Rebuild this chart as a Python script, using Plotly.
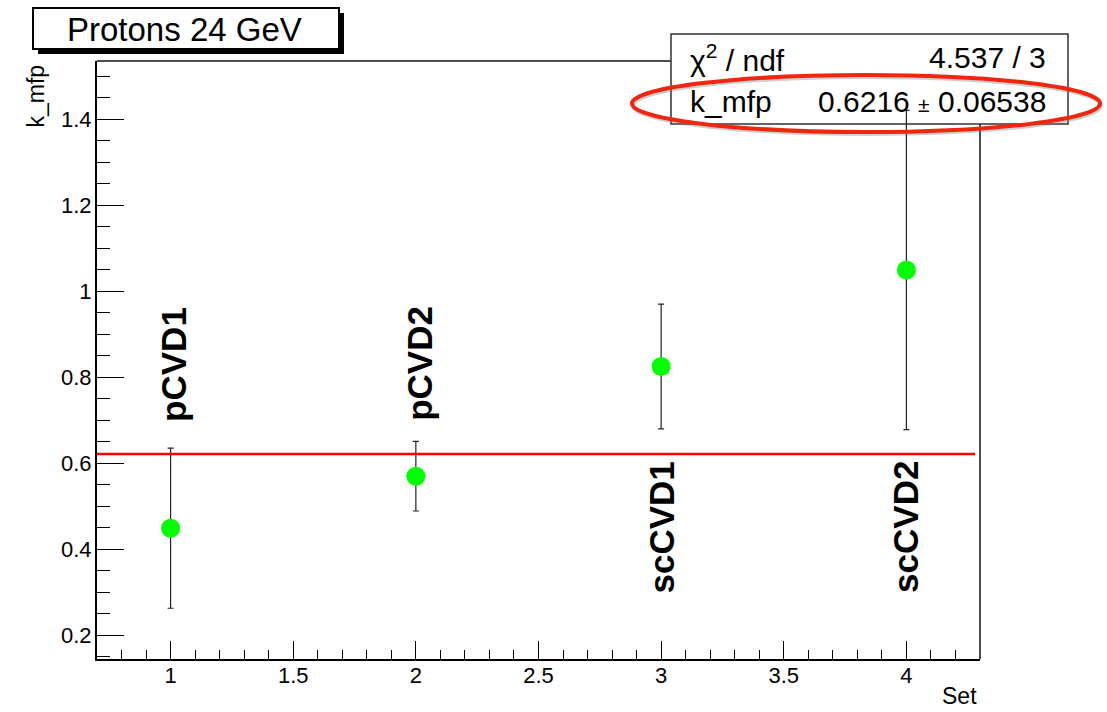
import plotly.graph_objects as go

# ---- data ----
sets = [1, 2, 3, 4]
k_mfp = [0.449, 0.570, 0.825, 1.049]
k_err = [0.186, 0.081, 0.145, 0.371]
labels = ["pCVD1", "pCVD2", "scCVD1", "scCVD2"]
label_y = [0.830, 0.833, 0.451, 0.453]
label_shift = [3, 3, 0, -1]
fit_value = 0.6216
fit_error = 0.06538
chi2 = 4.537
ndf = 3
fit_range = [0.7, 4.28]
title_text = "Protons 24 GeV"

# ---- layout geometry (pixels) ----
WIDTH, HEIGHT = 1107, 712
L, T, W, H = 97, 61, 883, 598
FONT = "Liberation Sans, Arial, Helvetica, sans-serif"


def fx(p):
    return (p - L) / W


def fy(p):
    return (T + H - p) / H


fig = go.Figure()

fig.add_trace(go.Scatter(
    x=sets, y=k_mfp, mode="markers",
    marker=dict(size=19, color="#00ff00", line=dict(width=0)),
    error_y=dict(type="data", array=k_err, visible=True,
                 thickness=1.2, width=3, color="#222222"),
    showlegend=False, cliponaxis=False,
))

fig.add_trace(go.Scatter(
    x=fit_range, y=[fit_value, fit_value], mode="lines",
    line=dict(color="#ff0000", width=2.5),
    showlegend=False,
))

shapes = []
# frame top / right (below, hidden by stats box)
shapes.append(dict(type="line", xref="paper", yref="paper", x0=0, x1=1, y0=1, y1=1,
                   line=dict(color="#111111", width=1.5), layer="below"))
shapes.append(dict(type="line", xref="paper", yref="paper", x0=1, x1=1, y0=0, y1=1,
                   line=dict(color="#111111", width=1.5), layer="below"))
# stats box
shapes.append(dict(type="rect", xref="paper", yref="paper",
                   x0=fx(671), x1=fx(1068), y0=fy(124), y1=fy(34),
                   fillcolor="white", line=dict(color="#333333", width=1.5), layer="below"))
# title box shadow + box
shapes.append(dict(type="rect", xref="paper", yref="paper",
                   x0=fx(38), x1=fx(344), y0=fy(54), y1=fy(13),
                   fillcolor="black", line=dict(width=0), layer="above"))
shapes.append(dict(type="rect", xref="paper", yref="paper",
                   x0=fx(33), x1=fx(339), y0=fy(49), y1=fy(8),
                   fillcolor="white", line=dict(color="black", width=2), layer="above"))
# red ellipse (soft shadow + stroke)
shapes.append(dict(type="circle", xref="paper", yref="paper",
                   x0=fx(633), x1=fx(1101), y0=fy(134), y1=fy(77),
                   fillcolor="rgba(0,0,0,0)", line=dict(color="rgba(120,120,120,0.35)", width=4),
                   layer="above"))
shapes.append(dict(type="circle", xref="paper", yref="paper",
                   x0=fx(632), x1=fx(1100), y0=fy(132), y1=fy(75),
                   fillcolor="rgba(0,0,0,0)", line=dict(color="#f0260f", width=4),
                   layer="above"))

annotations = []
# title
annotations.append(dict(text=title_text, xref="paper", yref="paper",
                        x=fx(184), y=fy(29), xanchor="center", yanchor="middle",
                        showarrow=False, font=dict(family=FONT, size=33, color="black")))
# stats text
annotations.append(dict(text="χ<sup>2</sup> / ndf", xref="paper", yref="paper",
                        x=fx(688), y=fy(58), xanchor="left", yanchor="middle",
                        showarrow=False, font=dict(family=FONT, size=30, color="black")))
annotations.append(dict(text=f"{chi2} / {ndf}", xref="paper", yref="paper",
                        x=fx(1048), y=fy(57), xanchor="right", yanchor="middle",
                        showarrow=False, font=dict(family=FONT, size=30, color="black")))
annotations.append(dict(text="k_mfp", xref="paper", yref="paper",
                        x=fx(688), y=fy(102), xanchor="left", yanchor="middle",
                        showarrow=False, font=dict(family=FONT, size=30, color="black")))
annotations.append(dict(text=f"{fit_value} <span style='font-size:21px'>±</span> {fit_error}",
                        xref="paper", yref="paper",
                        x=fx(1048), y=fy(102), xanchor="right", yanchor="middle",
                        showarrow=False, font=dict(family=FONT, size=30, color="black")))
# axis titles
annotations.append(dict(text="k_mfp", xref="paper", yref="paper",
                        x=fx(35), y=fy(62), xanchor="center", yanchor="top", textangle=-90,
                        showarrow=False, font=dict(family=FONT, size=23, color="black")))
annotations.append(dict(text="Set", xref="paper", yref="paper",
                        x=fx(979), y=fy(711), xanchor="right", yanchor="bottom",
                        showarrow=False, font=dict(family=FONT, size=23, color="black")))
# sample labels
for xs, ys, lab, sh in zip(sets, label_y, labels, label_shift):
    annotations.append(dict(text=f"<b>{lab}</b>", x=xs, y=ys, xref="x", yref="y",
                            xanchor="center", yanchor="middle", textangle=-90, xshift=sh,
                            showarrow=False, font=dict(family=FONT, size=35, color="black")))

fig.update_layout(
    width=WIDTH, height=HEIGHT,
    margin=dict(l=L, r=WIDTH - L - W, t=T, b=HEIGHT - T - H, pad=0),
    paper_bgcolor="white", plot_bgcolor="white",
    font=dict(family=FONT, color="black"),
    shapes=shapes, annotations=annotations,
    showlegend=False,
)

fig.update_xaxes(
    range=[0.7, 4.3], tick0=0, dtick=0.5, ticks="inside", ticklen=18, tickwidth=1.2,
    tickcolor="black", showline=True, linecolor="black", linewidth=2,
    showgrid=False, zeroline=False, tickfont=dict(family=FONT, size=22, color="black"),
    ticklabelstandoff=-4,
    minor=dict(dtick=0.1, tick0=0, ticks="inside", ticklen=9, tickwidth=1.2, tickcolor="black",
               showgrid=False),
)
fig.update_yaxes(
    range=[0.145, 1.535], tick0=0, dtick=0.2, ticks="inside", ticklen=27, tickwidth=1.2,
    tickcolor="black", showline=True, linecolor="black", linewidth=2,
    showgrid=False, zeroline=False, tickfont=dict(family=FONT, size=22, color="black"),
    ticklabelstandoff=-1,
    minor=dict(dtick=0.05, tick0=0, ticks="inside", ticklen=13, tickwidth=1.2, tickcolor="black",
               showgrid=False),
)

fig.write_html("out.html")
